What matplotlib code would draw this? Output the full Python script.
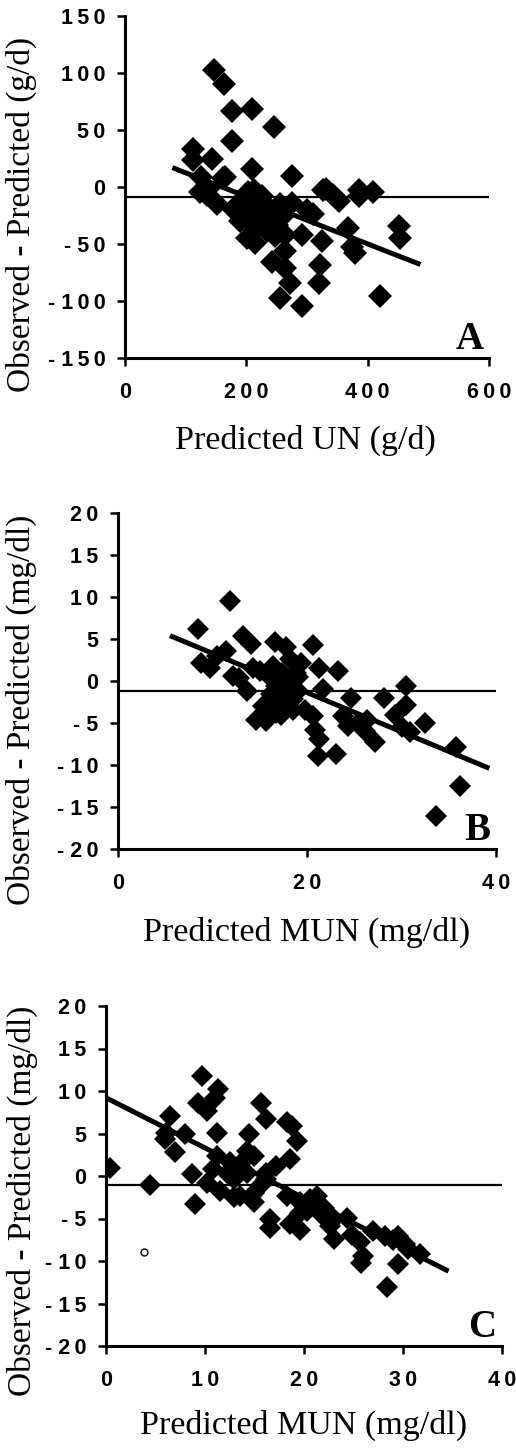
import matplotlib
matplotlib.use("Agg")
import matplotlib.pyplot as plt
import numpy as np

plt.rcParams['axes.unicode_minus'] = False

# ---------------- Panel A data ----------------
a_x = [147, 163, 176, 209, 246, 176, 112, 112, 144, 209, 275, 165, 126, 137, 151, 327,
       124, 162, 203, 225, 187, 201, 190, 201, 214, 234, 228, 250, 256, 275, 264, 247,
       264, 242, 264, 272, 256, 291, 291, 300, 310, 324, 322, 319, 332, 352, 343, 368,
       374, 379, 385, 385, 409, 420, 451, 453, 135, 180, 215, 230, 220, 240, 205, 260, 213]
a_y = [103, 90, 67, 68, 53, 40, 33, 24, 25, 16, 10, 9, 9, -2, -15, -3,
       -4, 8, -4, -8, -15, -27, -30, -45, -49, -39, -21, -33, -15, -14, -42, -43,
       -56, -66, -71, -84, -97, -104, -42, -20, -24, -47, -68, -84, -2, -12, -7, -36,
       -53, -58, -8, -3, -4, -96, -34, -45, -7, -20, -10, -28, -35, -20, -18, -25, -3]
a_hline = -8.5
a_fit_x = [78, 487]
a_fit_y = [17, -68]
a_xticks = [0, 200, 400, 600]
a_yticks = [-150, -100, -50, 0, 50, 100, 150]

# ---------------- Panel B data ----------------
b_x = [8.5, 11.8, 13.2, 14.1, 16.6, 17.8, 20.6, 8.8, 9.7, 10.5, 11.4, 12.2, 14.3, 13.6,
       14.6, 15.7, 15.3, 16.7, 17.3, 16.4, 16.0, 16.7, 17.4, 18.2, 17.8, 18.5, 19.0, 19.4,
       21.3, 23.3, 19.8, 20.6, 20.8, 21.3, 21.2, 23.1, 21.7, 24.7, 23.8, 24.3, 25.4, 26.1,
       26.3, 27.2, 28.1, 29.3, 30.5, 30.5, 30.0, 30.9, 32.5, 35.8, 36.2, 33.7, 18.2, 18.5,
       17.1, 15.0, 19.0, 16.2, 17.6, 18.8, 12.8]
b_y = [6.2, 9.5, 5.4, 4.4, 4.6, 4.0, 4.3, 2.2, 1.6, 3.0, 3.6, 0.6, 1.6, -1.2,
       -4.6, -4.8, -3.0, -3.8, -4.0, 1.8, 0.6, -0.6, 1.0, -0.2, -1.8, -2.2, -1.2, 2.2,
       1.6, 1.2, -3.4, -4.2, -5.8, -6.9, -8.9, -8.7, -1.0, -2.0, -4.2, -5.4, -5.0, -6.0,
       -4.6, -7.3, -2.0, -4.0, -0.6, -2.8, -5.5, -6.1, -5.0, -7.9, -12.5, -16.1, 2.6, -3.4,
       -2.6, 1.2, 0.5, -1.5, 0.2, 1.0, 0.3]
b_hline = -1.2
b_fit_x = [5.5, 39.3]
b_fit_y = [5.4, -10.4]
b_xticks = [0, 20, 40]
b_yticks = [-20, -15, -10, -5, 0, 5, 10, 15, 20]

# ---------------- Panel C data ----------------
c_x = [9.7, 11.3, 11.0, 9.3, 10.2, 15.7, 16.2, 18.3, 18.8, 19.3, 6.5, 6.1, 6.0, 8.0,
       7.0, 11.2, 14.4, 0.4, 4.4, 8.7, 9.0, 11.2, 12.5, 14.2, 13.5, 14.9, 10.2, 11.5,
       12.9, 13.5, 14.9, 15.6, 16.2, 17.2, 18.6, 16.6, 16.6, 18.6, 19.6, 18.3, 19.6,
       20.6, 21.3, 19.6, 20.3, 21.9, 22.6, 23.0, 24.3, 23.0, 24.8, 25.7, 26.0, 25.8,
       28.2, 29.5, 30.2, 29.5, 31.7, 28.4, 10.8, 12.2, 14.2, 12.9, 14.9, 16.2, 21.0,
       22.0, 27.0, 29.0, 30.5]
c_y = [11.8, 10.2, 9.2, 8.6, 7.6, 8.6, 6.7, 6.3, 5.9, 4.1, 7.1, 5.1, 4.3, 4.9,
       2.8, 5.1, 4.9, 1.0, -1.1, 0.2, -3.3, 2.4, 1.6, 2.9, 1.4, 2.4, -0.8, -1.8,
       -0.4, -2.4, -3.1, -1.2, 0.4, 1.2, 2.0, -5.1, -6.1, -5.7, -6.3, -2.4, -3.1,
       -2.7, -2.4, -4.3, -4.1, -4.7, -5.9, -5.1, -4.9, -7.4, -6.9, -7.8, -9.4, -10.2,
       -7.1, -7.1, -8.0, -10.4, -9.2, -13.1, 0.8, 0.4, 0.4, -2.5, -2.0, -0.4, -3.5,
       -3.8, -6.5, -7.5, -8.6]
c_open_x = [3.8]
c_open_y = [-8.9]
c_hline = -1.1
c_fit_x = [0, 34.6]
c_fit_y = [9.2, -11.2]
c_xticks = [0, 10, 20, 30, 40]
c_yticks = [-20, -15, -10, -5, 0, 5, 10, 15, 20]

W, H = 516, 1450
fig = plt.figure(figsize=(W / 100, H / 100), dpi=100)

tick_font = dict(family=['Liberation Sans', 'DejaVu Sans'], weight='bold', size=15.5)
xlabel_font = dict(family='Liberation Serif', size=24.5)
ylabel_font = dict(family='Liberation Serif', size=24)
letter_font = dict(family='Liberation Serif', weight='bold', size=28)

THIN = '\u2009'


def spaced(v):
    s = THIN.join(str(abs(v)))
    return ('- ' + s) if v < 0 else s


def make_panel(rect, xs, ys, hline, fx, fy, xticks, yticks, xlabel, ylabel, letter, ms,
               xlim, ylim, xlab_pos, ylab_pos, ox=None, oy=None):
    l, t, r, b = rect
    ax = fig.add_axes([l / W, 1 - b / H, (r - l) / W, (b - t) / H])
    ax.set_xlim(*xlim)
    ax.set_ylim(*ylim)
    for s in ['top', 'right']:
        ax.spines[s].set_visible(False)
    for s in ['left', 'bottom']:
        ax.spines[s].set_linewidth(2.2)
    ax.axhline(hline, color='black', lw=1.6, zorder=1)
    ax.plot(xs, ys, linestyle='none', marker='D', ms=ms, color='black',
            markeredgewidth=0, zorder=2)
    if ox is not None:
        ax.plot(ox, oy, linestyle='none', marker='o', ms=5, mfc='white',
                mec='black', mew=1.0, zorder=3)
    ax.plot(fx, fy, color='black', lw=3.6, solid_capstyle='butt', zorder=3)
    ax.set_xticks(xticks)
    ax.set_yticks(yticks)
    ax.set_xticklabels([spaced(v) for v in xticks], fontdict=tick_font)
    ax.set_yticklabels([spaced(v) for v in yticks], fontdict=tick_font)
    ax.tick_params(direction='out', length=6, width=1.8)
    ax.tick_params(axis='x', pad=11)
    ax.tick_params(axis='y', pad=8)
    fig.text(xlab_pos[0] / W, 1 - xlab_pos[1] / H, xlabel, ha='center', va='center',
             fontdict=xlabel_font)
    fig.text(ylab_pos[0] / W, 1 - ylab_pos[1] / H, ylabel, ha='center', va='center',
             rotation=90, fontdict=ylabel_font)
    ax.text(0.985, 0.0, letter, transform=ax.transAxes, ha='right', va='bottom',
            fontdict=letter_font)
    return ax


make_panel((125, 16, 489, 358), a_x, a_y, a_hline, a_fit_x, a_fit_y, a_xticks, a_yticks,
           'Predicted UN (g/d)', 'Observed - Predicted (g/d)', 'A', 12.5,
           (0, 600), (-150, 150), (305, 440), (21, 214))
make_panel((118, 513, 496, 849), b_x, b_y, b_hline, b_fit_x, b_fit_y, b_xticks, b_yticks,
           'Predicted MUN (mg/dl)', 'Observed - Predicted (mg/dl)', 'B', 11,
           (0, 40), (-20, 20), (307, 932), (21, 710))
make_panel((106, 1006, 502, 1346), c_x, c_y, c_hline, c_fit_x, c_fit_y, c_xticks, c_yticks,
           'Predicted MUN (mg/dl)', 'Observed - Predicted (mg/dl)', 'C', 11,
           (0, 40), (-20, 20), (304, 1425), (22, 1201), c_open_x, c_open_y)

fig.savefig('out.png', dpi=100)
